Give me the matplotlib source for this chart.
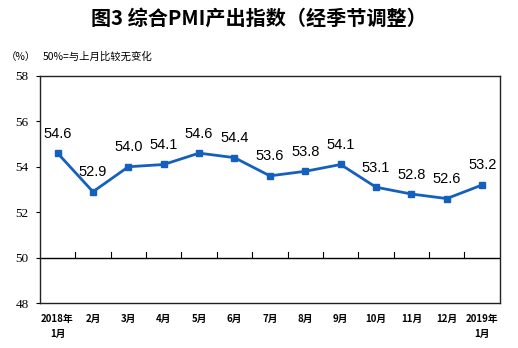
import numpy as np
import matplotlib
matplotlib.use("Agg")
import matplotlib.pyplot as plt

plt.rcParams['font.family'] = ['Noto Sans CJK SC', 'DejaVu Sans']

# data
months = ['2018年\n1月', '2月', '3月', '4月', '5月', '6月', '7月',
          '8月', '9月', '10月', '11月', '12月', '2019年\n1月']
pmi_output = [54.6, 52.9, 54.0, 54.1, 54.6, 54.4, 53.6, 53.8, 54.1, 53.1, 52.8, 52.6, 53.2]
y_ticks = [48, 50, 52, 54, 56, 58]

line_color = '#1560BD'

fig = plt.figure(figsize=(5.18, 3.48), dpi=100)
ax = fig.add_axes([0.077, 0.129, 0.888, 0.653])

x = np.arange(len(months))
ax.plot(x, pmi_output, color=line_color, lw=2, marker='s', markersize=4.5, zorder=3)

for xi, v in zip(x, pmi_output):
    ax.annotate(f'{v:.1f}', (xi, v), xytext=(0, 9), textcoords='offset points',
                ha='center', va='bottom', fontsize=10.5, family='Liberation Sans')

ax.set_xlim(-0.5, len(months) - 0.5)
ax.set_ylim(48, 58)
ax.set_yticks(y_ticks)
ax.set_yticklabels([str(t) for t in y_ticks], family='Liberation Serif', fontsize=9.5)
ax.tick_params(axis='y', length=3, width=0.8, pad=5)

# baseline at 50 with category separators
ax.axhline(50, color='black', lw=1, zorder=2)
for b in np.arange(0.5, len(months) - 1, 1):
    ax.plot([b, b], [50, 50.25], color='black', lw=0.8)

ax.set_xticks(x)
ax.set_xticklabels(months, fontsize=7, fontweight='bold', linespacing=1.6)
ax.tick_params(axis='x', length=0, pad=8)

for s in ax.spines.values():
    s.set_linewidth(1)
    s.set_color('#222222')

fig.text(0.5, 0.948, '图3 综合PMI产出指数（经季节调整）', ha='center', va='center',
         fontsize=14.5, fontweight='bold')
fig.text(0.012, 0.836, '（%）', ha='left', va='center', fontsize=7.5)
fig.text(0.083, 0.838, '50%=与上月比较无变化', ha='left', va='center', fontsize=7.5)

fig.savefig('out.png', dpi=100)
